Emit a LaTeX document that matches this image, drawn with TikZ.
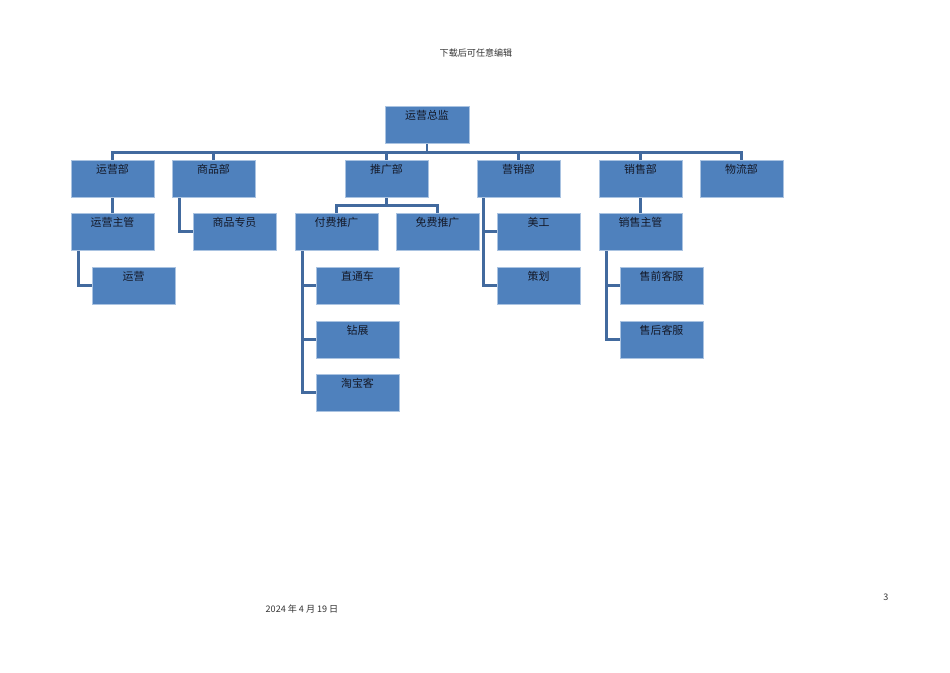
\documentclass[tikz,border=0pt]{standalone}
\usepackage{fontspec}
\newfontfamily\cjk{Noto Sans CJK SC}
\usetikzlibrary{calc,backgrounds}
\definecolor{boxfill}{RGB}{79,129,189}
\definecolor{boxedge}{RGB}{170,195,225}
\definecolor{connc}{RGB}{66,106,158}
\definecolor{txt}{RGB}{20,25,40}
\begin{document}
\begin{tikzpicture}[x=0.75pt,y=-0.75pt,
  box/.style={draw=boxedge, line width=0.5pt, fill=boxfill, minimum width=62.25pt, minimum height=27.75pt,
    inner sep=0pt, text height=10.2pt, text depth=17.55pt, text=txt, font=\cjk\fontsize{8.2pt}{9pt}\selectfont},
  conn/.style={draw=connc, line width=2.1pt},
  small/.style={font=\cjk\fontsize{6.8pt}{8pt}\selectfont, text=black!80, inner sep=0pt}]
\useasboundingbox (0,0) rectangle (950,672);
% header and footer
\node[small] (hdr) at (476,53) {下载后可任意编辑};
\node[small] (date) at (302,609) {2024 年 4 月 19 日};
\node[small] (pg) at (886,597) {3};
% boxes
\node[box, minimum width=63pt] (zj) at (427,124.5) {运营总监};
\node[box] (yyb) at (112.5,178.5) {运营部};
\node[box] (spb) at (213.5,178.5) {商品部};
\node[box] (tgb) at (386.5,178.5) {推广部};
\node[box] (yxb) at (518.5,178.5) {营销部};
\node[box] (xsb) at (640.5,178.5) {销售部};
\node[box] (wlb) at (741.5,178.5) {物流部};
\node[box] (yyzg) at (112.5,231.5) {运营主管};
\node[box] (spzy) at (234.5,231.5) {商品专员};
\node[box] (fftg) at (336.5,231.5) {付费推广};
\node[box] (mftg) at (437.5,231.5) {免费推广};
\node[box] (mg) at (538.5,231.5) {美工};
\node[box] (xszg) at (640.5,231.5) {销售主管};
\node[box] (yy) at (133.5,285.5) {运营};
\node[box] (ztc) at (357.5,285.5) {直通车};
\node[box] (ch) at (538.5,285.5) {策划};
\node[box] (sq) at (661.5,285.5) {售前客服};
\node[box] (zz) at (357.5,339.5) {钻展};
\node[box] (sh) at (661.5,339.5) {售后客服};
\node[box] (tbk) at (357.5,392.5) {淘宝客};
% connectors
\begin{scope}[on background layer]
\fill[white] (0,0) rectangle (950,672);
\coordinate (bus) at ($(zj.south)+(0,9)$);
\draw[conn] (zj.south) -- (bus);
\draw[conn] (yyb.north) -- (yyb.north |- bus) -- (wlb.north |- bus) -- (wlb.north);
\foreach \n in {spb,tgb,yxb,xsb} \draw[conn] (\n.north) -- (\n.north |- bus);
\draw[conn] (yyb.south) -- (yyzg.north);
\draw[conn] (xsb.south) -- (xszg.north);
\draw[conn] ($(spb.south west)+(8,0)$) |- (spzy.west);
\draw[conn] ($(yyzg.south west)+(8,0)$) |- (yy.west);
\coordinate (tgm) at ($(tgb.south)+(0,8)$);
\draw[conn] (tgb.south) -- (tgm);
\draw[conn] (fftg.north) -- (fftg.north |- tgm) -- (mftg.north |- tgm) -- (mftg.north);
\coordinate (ffl) at ($(fftg.south west)+(8,0)$);
\draw[conn] (ffl) |- (tbk.west);
\draw[conn] (ffl |- ztc.west) -- (ztc.west);
\draw[conn] (ffl |- zz.west) -- (zz.west);
\coordinate (yxl) at ($(yxb.south west)+(7,0)$);
\draw[conn] (yxl) |- (ch.west);
\draw[conn] (yxl |- mg.west) -- (mg.west);
\coordinate (xsl) at ($(xszg.south west)+(8,0)$);
\draw[conn] (xsl) |- (sh.west);
\draw[conn] (xsl |- sq.west) -- (sq.west);
\end{scope}
\end{tikzpicture}
\end{document}
